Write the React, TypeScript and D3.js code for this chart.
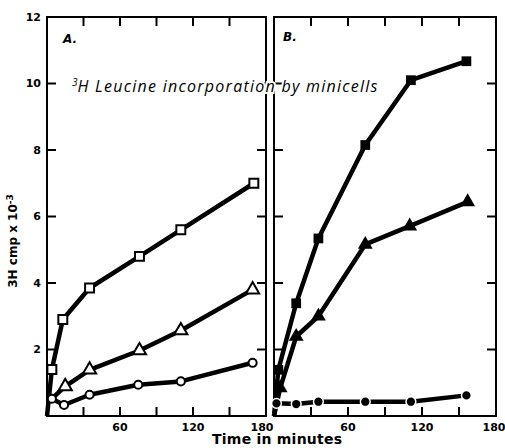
import React, { useEffect, useRef } from 'react';
import * as d3 from 'd3';

// y ticks and labels (cpm x 10^-3)
const cpmTicks = [2, 4, 6, 8, 10];
const cpmLabels = [2, 4, 6, 8, 10, 12];
// x ticks (minutes)
const minuteTicks = [30, 60, 90, 120, 150];
const minuteLabels = [60, 120, 180];

// Panel A — open symbols
const aSquareMin = [0, 4, 13, 35, 76, 110, 170];
const aSquareCpm = [0, 1.4, 2.9, 3.85, 4.8, 5.6, 7.0];
const aTriangleMin = [4, 15, 35, 76, 110, 169];
const aTriangleCpm = [0.52, 0.89, 1.39, 1.97, 2.57, 3.8];
const aCircleMin = [4, 14, 35, 75, 110, 169];
const aCircleCpm = [0.52, 0.33, 0.64, 0.94, 1.04, 1.6];

// Panel B — filled symbols
const bSquareMin = [0, 3.5, 18, 36, 74, 111, 156];
const bSquareCpm = [0, 1.39, 3.39, 5.34, 8.15, 10.1, 10.67];
const bTriangleMin = [0, 5, 18, 36, 74, 110, 157];
const bTriangleCpm = [0, 0.84, 2.39, 3.0, 5.16, 5.71, 6.44];
const bCircleMin = [2, 18, 36, 74, 111, 156];
const bCircleCpm = [0.38, 0.36, 0.43, 0.43, 0.43, 0.62];

const zipPts = (xs, ys) => xs.map((x, i) => [x, ys[i]]);

const panels = [
  {
    label: 'A.',
    x0: 47,
    x1: 266,
    labelPos: [63, 43],
    series: [
      { pts: zipPts(aSquareMin, aSquareCpm), shape: d3.symbolSquare, size: 80, filled: false, skipFirst: true },
      { pts: zipPts(aTriangleMin, aTriangleCpm), shape: d3.symbolTriangle, size: 75, filled: false, skipFirst: true },
      { pts: zipPts(aCircleMin, aCircleCpm), shape: d3.symbolCircle, size: 52, filled: false, skipFirst: false },
    ],
  },
  {
    label: 'B.',
    x0: 274,
    x1: 496,
    labelPos: [283, 41],
    series: [
      { pts: zipPts(bSquareMin, bSquareCpm), shape: d3.symbolSquare, size: 95, filled: true, skipFirst: true },
      { pts: zipPts(bTriangleMin, bTriangleCpm), shape: d3.symbolTriangle, size: 95, filled: true, skipFirst: true },
      { pts: zipPts(bCircleMin, bCircleCpm), shape: d3.symbolCircle, size: 75, filled: true, skipFirst: false, halo: true },
    ],
  },
];

const FONT = "'DejaVu Sans', sans-serif";

export default function App() {
  const svgRef = useRef(null);

  useEffect(() => {
    const svg = d3.select(svgRef.current);
    svg.selectAll('*').remove();

    const yTop = 17;
    const yBottom = 416;
    const tickLen = 9;
    const y = d3.scaleLinear().domain([0, 12]).range([yBottom, yTop]);

    panels.forEach((panel, pi) => {
      const x = d3.scaleLinear().domain([0, 180]).range([panel.x0, panel.x1]);
      const g = svg.append('g');

      // frame
      g.append('rect')
        .attr('x', panel.x0)
        .attr('y', yTop)
        .attr('width', panel.x1 - panel.x0)
        .attr('height', yBottom - yTop)
        .attr('fill', 'none')
        .attr('stroke', '#000')
        .attr('stroke-width', 2);

      // inward ticks
      minuteTicks.forEach(m => {
        g.append('line').attr('x1', x(m)).attr('x2', x(m)).attr('y1', yTop).attr('y2', yTop + tickLen)
          .attr('stroke', '#000').attr('stroke-width', 2);
        g.append('line').attr('x1', x(m)).attr('x2', x(m)).attr('y1', yBottom).attr('y2', yBottom - tickLen)
          .attr('stroke', '#000').attr('stroke-width', 2);
      });
      cpmTicks.forEach(c => {
        g.append('line').attr('x1', panel.x0).attr('x2', panel.x0 + tickLen).attr('y1', y(c)).attr('y2', y(c))
          .attr('stroke', '#000').attr('stroke-width', 2);
        g.append('line').attr('x1', panel.x1).attr('x2', panel.x1 - tickLen).attr('y1', y(c)).attr('y2', y(c))
          .attr('stroke', '#000').attr('stroke-width', 2);
      });

      // x labels
      minuteLabels.forEach(m => {
        let shift = 0;
        if (m === 180) shift = pi === 0 ? -4 : -2;
        g.append('text')
          .attr('x', x(m) + shift)
          .attr('y', 431)
          .attr('text-anchor', 'middle')
          .style('font-family', FONT)
          .style('font-weight', 'bold')
          .style('font-size', '11px')
          .text(m);
      });

      // y labels (left panel only)
      if (pi === 0) {
        cpmLabels.forEach(c => {
          g.append('text')
            .attr('x', panel.x0 - 6)
            .attr('y', y(c))
            .attr('dy', '0.35em')
            .attr('text-anchor', 'end')
            .style('font-family', FONT)
            .style('font-weight', 'bold')
            .style('font-size', '11px')
            .text(c);
        });
      }

      // panel letter
      g.append('text')
        .attr('x', panel.labelPos[0])
        .attr('y', panel.labelPos[1])
        .style('font-family', FONT)
        .style('font-weight', 'bold')
        .style('font-style', 'italic')
        .style('font-size', '12px')
        .text(panel.label);

      // series
      const line = d3.line().x(d => x(d[0])).y(d => y(d[1]));
      panel.series.forEach(s => {
        g.append('path')
          .datum(s.pts)
          .attr('fill', 'none')
          .attr('stroke', '#000')
          .attr('stroke-width', 4.5)
          .attr('stroke-linejoin', 'round')
          .attr('d', line);
      });
      panel.series.forEach(s => {
        const marked = s.skipFirst ? s.pts.slice(1) : s.pts;
        g.selectAll(null)
          .data(marked)
          .enter()
          .append('path')
          .attr('transform', d => `translate(${x(d[0])},${y(d[1])})`)
          .attr('d', d3.symbol().type(s.shape).size(s.size)())
          .attr('fill', s.filled ? '#000' : '#fff')
          .attr('stroke', s.filled ? (s.halo ? '#fff' : 'none') : '#000')
          .attr('stroke-width', s.filled ? 1.5 : 2);
      });
    });

    // title
    const title = svg.append('text')
      .attr('x', 72)
      .attr('y', 92)
      .style('font-family', "'Open Sans', sans-serif")
      .style('font-style', 'italic')
      .style('font-size', '16px')
      .attr('stroke', '#fff')
      .attr('stroke-width', 4)
      .attr('paint-order', 'stroke');
    title.append('tspan').attr('dy', '-6').style('font-size', '10px').text('3');
    title.append('tspan')
      .attr('dy', '6')
      .attr('textLength', 300)
      .attr('lengthAdjust', 'spacing')
      .text('H Leucine  incorporation  by minicells');

    // y-axis title
    const ylab = svg.append('text')
      .attr('transform', 'translate(17,241) rotate(-90)')
      .attr('text-anchor', 'middle')
      .style('font-family', FONT)
      .style('font-weight', 'bold')
      .style('font-size', '12px');
    ylab.append('tspan').text('3H cmp x 10');
    ylab.append('tspan').attr('dy', '-4').style('font-size', '9px').text('-3');

    // x-axis title
    svg.append('text')
      .attr('x', 277)
      .attr('y', 444)
      .attr('text-anchor', 'middle')
      .attr('textLength', 130)
      .style('font-family', FONT)
      .style('font-size', '14px')
      .style('font-weight', 'bold')
      .text('Time in minutes');
  }, []);

  return (
    <svg
      ref={svgRef}
      width={505}
      height={448}
      style={{ position: 'absolute', left: 0, top: 0, background: '#fff' }}
    />
  );
}
